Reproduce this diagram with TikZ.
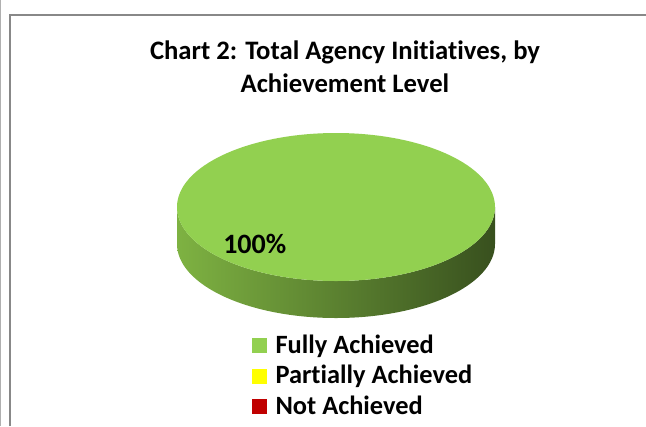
\documentclass[tikz,border=0pt]{standalone}
\usepackage{fontspec}
\setmainfont{Carlito}[Ligatures={NoCommon}]
\usetikzlibrary{positioning}
\definecolor{topgreen}{RGB}{146,208,80}
\definecolor{sidelight}{RGB}{126,178,66}
\definecolor{sidemid}{RGB}{98,140,52}
\definecolor{sidedark}{RGB}{56,80,30}
\definecolor{framegray}{RGB}{136,136,136}
\definecolor{edgegray}{RGB}{176,176,176}
\definecolor{partyellow}{RGB}{255,255,0}
\definecolor{notred}{RGB}{192,0,0}
\tikzset{
  titletext/.style={inner sep=0pt, font=\fontsize{20}{24}\selectfont\bfseries},
  pcttext/.style={inner sep=0pt, font=\fontsize{21}{25}\selectfont\bfseries},
  legtext/.style={inner sep=0pt, font=\fontsize{19.8}{24}\selectfont\bfseries},
  legbox/.style={minimum size=11.25pt, inner sep=0pt, draw=none},
}
\begin{document}
\begin{tikzpicture}[x=0.75pt,y=0.75pt,yscale=-1,xscale=1]
\useasboundingbox (0,0) rectangle (646,426);

%Frame lines
\draw [edgegray, line width=0.75pt] (0.5,0) -- (0.5,426) ;
\draw [framegray, line width=1.5pt] (9.5,426) -- (9.5,15) -- (646,15) ;

% Text Node
\node [titletext, anchor=base] (title1) at (345,59) {Chart 2: Total Agency Initiatives, by};
% Text Node
\node [titletext, anchor=base] (title2) at (345,92) {Achievement Level};

%Pie side
\shade [left color=sidelight, middle color=sidemid, right color=sidedark]
  (177,207) -- (177,244) arc [start angle=180, end angle=0, x radius=159, y radius=74]
  -- (495,207) arc [start angle=0, end angle=180, x radius=159, y radius=74] -- cycle ;
%Pie top
\fill [topgreen] (336,207) ellipse [x radius=159, y radius=74] ;

% Text Node
\node [pcttext, anchor=base west] (pct) at (223,253) {100\%};

%Legend
\node [legbox, fill=topgreen] (fa) at (259.5,345.5) {};
\node [legbox, fill=partyellow, below=11.25pt of fa] (pa) {};
\node [legbox, fill=notred, below=11.25pt of pa] (na) {};
\node [legtext, anchor=base west] (fatext) at ([xshift=6pt]fa.south east) {Fully Achieved};
\node [legtext, anchor=base west] (patext) at ([xshift=6pt]pa.south east) {Partially Achieved};
\node [legtext, anchor=base west] (natext) at ([xshift=6pt]na.south east) {Not Achieved};

\end{tikzpicture}
\end{document}
